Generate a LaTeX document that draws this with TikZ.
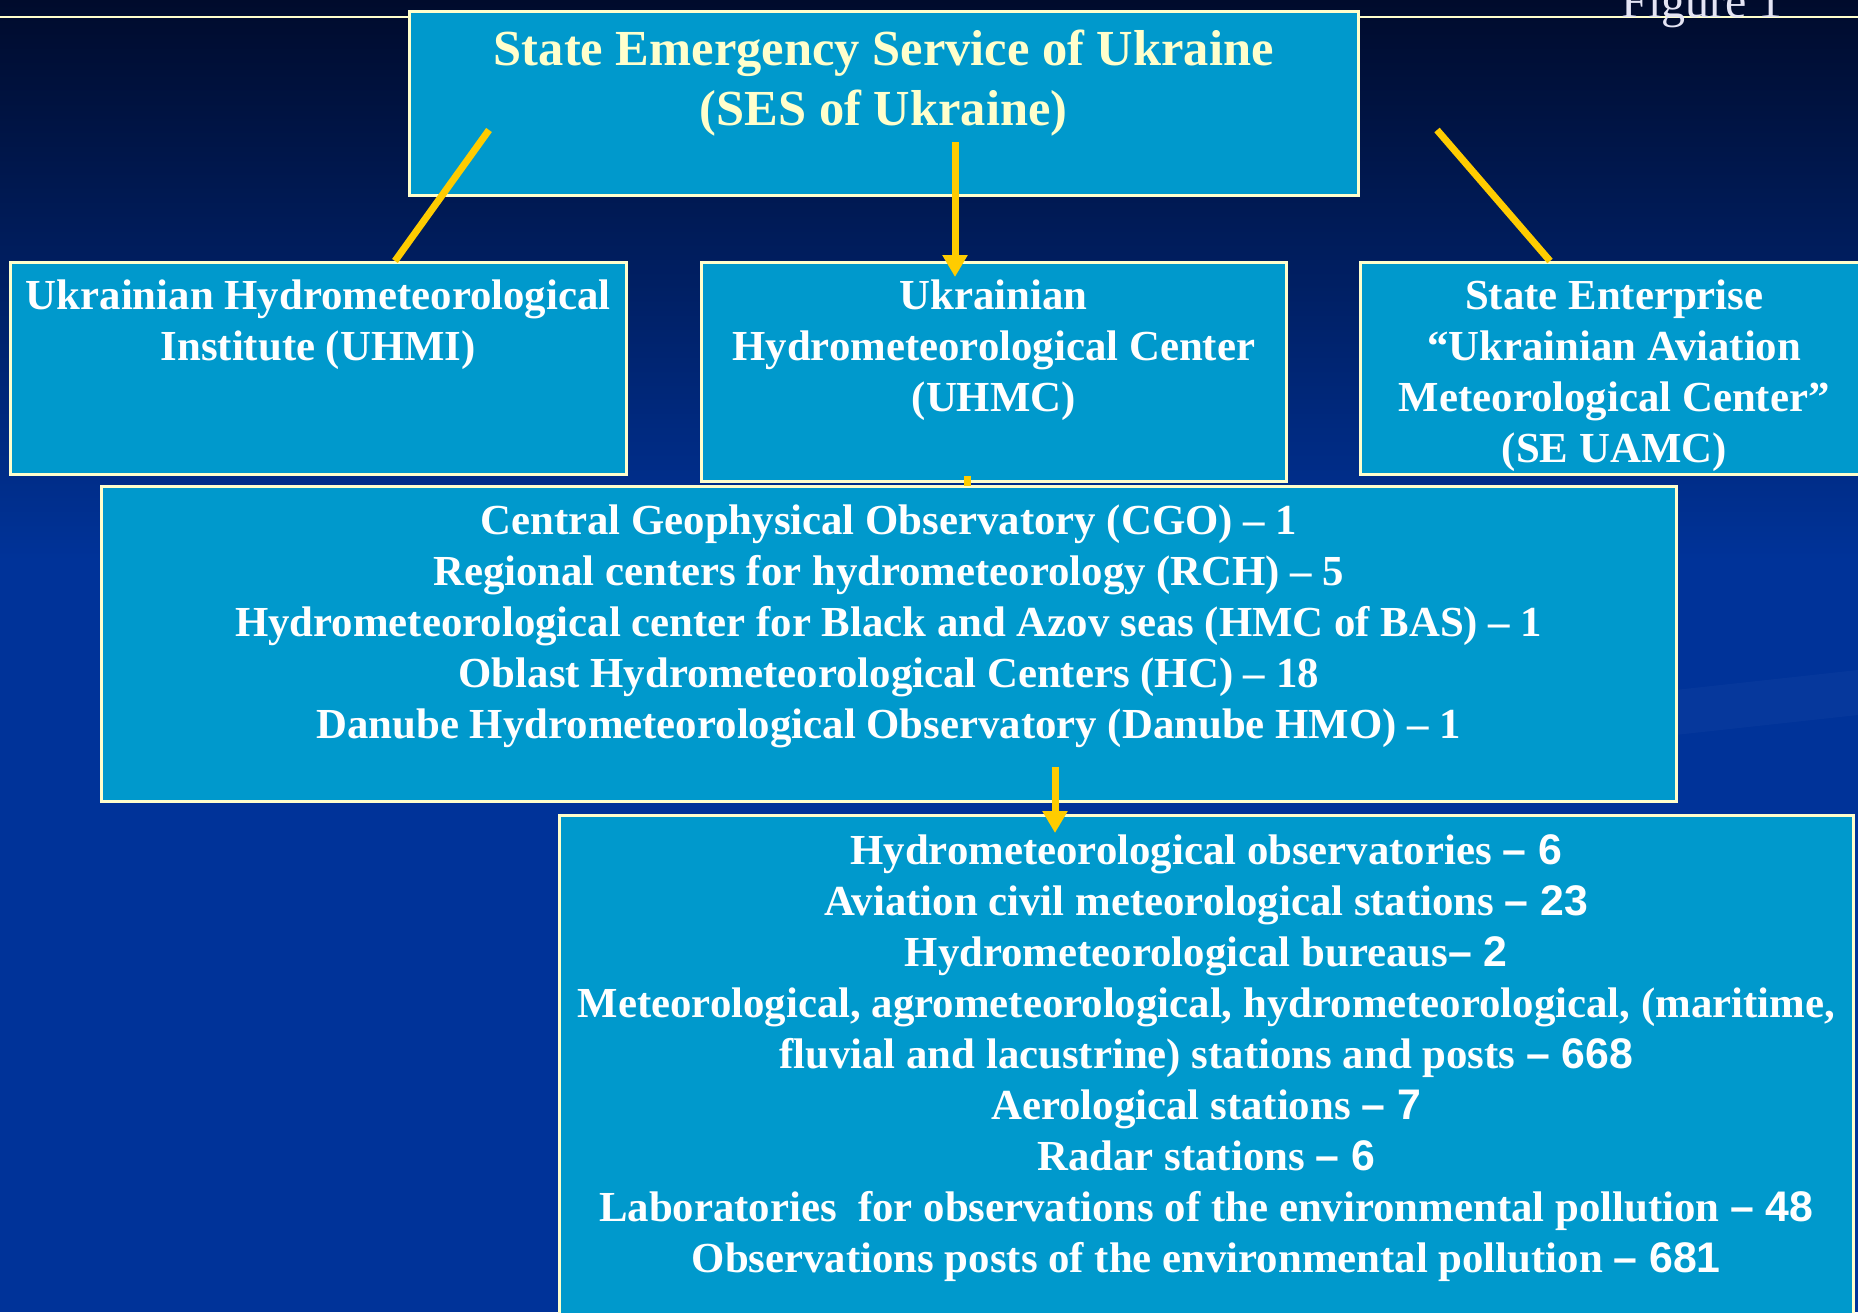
\documentclass[tikz,border=0pt]{standalone}
\usepackage{fontspec}
\setmainfont{Liberation Serif}
\newfontfamily\arialfont{Liberation Sans}
\usetikzlibrary{arrows.meta,calc}
\definecolor{boxfill}{HTML}{0099CC}
\definecolor{edgecol}{HTML}{FFFFCC}
\definecolor{titlecol}{HTML}{FFFFCC}
\definecolor{linkcol}{HTML}{FFCC00}
\definecolor{bgtop}{HTML}{000B2C}
\definecolor{bgbot}{HTML}{003399}
\definecolor{bgband}{HTML}{0B3C9E}
\definecolor{figcol}{HTML}{E4E4F4}
\newcommand{\cl}[1]{\makebox[\linewidth]{#1}}
\newcommand{\boxbody}[4]{\parbox[t][#2][t]{#1}{\vspace*{#3}#4\par\vfill}}
\newcommand{\num}[1]{{\arialfont\bfseries #1}}
\tikzset{
  orgbox/.style={draw=edgecol, line width=2.5pt, fill=boxfill, inner sep=0pt,
    anchor=north west, text=white, font=\bfseries\fontsize{42.8}{51}\selectfont},
  titlebox/.style={orgbox, text=titlecol, font=\bfseries\fontsize{50.5}{60}\selectfont},
  linkline/.style={draw=linkcol, line width=7pt},
  linkarrow/.style={linkline, -{Triangle[width=24pt,length=22pt]}},
  figlabel/.style={text=figcol, font=\fontsize{48}{58}\selectfont, inner sep=0pt, anchor=base}
}
\begin{document}
\begin{tikzpicture}[x=1pt,y=-1pt]
\useasboundingbox (0,0) rectangle (1858,1312);
\clip (0,0) rectangle (1858,1312);
% background
\fill[bgbot] (0,0) rectangle (1858,1312);
\shade[top color=bgtop, bottom color=bgbot] (0,0) rectangle (1858,560);
\fill[bgband, opacity=0.6] (1675,690) -- (1858,670) -- (1858,715) -- (1675,735) -- cycle;
% top rule and figure label
\draw[edgecol, line width=2.5pt] (0,17) -- (1858,17);
\node[figlabel] (figlabel) at (1702,17) {Figure 1};
% boxes
\node[titlebox] (ses) at (408,10) {\boxbody{949pt}{184pt}{12pt}{%
  \cl{\strut State Emergency Service of Ukraine}\par
  \cl{(SES of Ukraine)}}};
\node[orgbox] (uhmi) at (9,261) {\boxbody{616pt}{212pt}{12pt}{%
  \cl{\strut Ukrainian Hydrometeorological}\par
  \cl{Institute (UHMI)}}};
\node[orgbox] (uhmc) at (700,261) {\boxbody{585pt}{219pt}{12pt}{%
  \cl{\strut Ukrainian}\par
  \cl{Hydrometeorological Center}\par
  \cl{(UHMC)}}};
\node[orgbox] (uamc) at (1359,261) {\boxbody{508pt}{212pt}{12pt}{%
  \cl{\strut State Enterprise}\par
  \cl{“Ukrainian Aviation}\par
  \cl{Meteorological Center”}\par
  \cl{(SE UAMC)}}};
\node[orgbox] (cgo) at (100,485) {\boxbody{1575pt}{315pt}{13pt}{%
  \cl{\strut Central Geophysical Observatory (CGO) – 1}\par
  \cl{Regional centers for hydrometeorology (RCH) – 5}\par
  \cl{Hydrometeorological center for Black and Azov seas (HMC of BAS) – 1}\par
  \cl{Oblast Hydrometeorological Centers (HC) – 18}\par
  \cl{Danube Hydrometeorological Observatory (Danube HMO) – 1}}};
\node[orgbox] (obs) at (558,814) {\boxbody{1294pt}{520pt}{14pt}{%
  \cl{\strut Hydrometeorological observatories \num{– 6}}\par
  \cl{Aviation civil meteorological stations \num{– 23}}\par
  \cl{Hydrometeorological bureaus\num{– 2}}\par
  \cl{Meteorological, agrometeorological, hydrometeorological, (maritime,}\par
  \cl{fluvial and lacustrine) stations and posts \num{– 668}}\par
  \cl{Aerological stations \num{– 7}}\par
  \cl{Radar stations \num{– 6}}\par
  \cl{Laboratories\ \ for observations of the environmental pollution \num{– 48}}\par
  \cl{Observations posts of the environmental pollution \num{– 681}}}};
% connectors
\coordinate (sesL) at ($(ses.north west)+(81,120)$);
\coordinate (sesM) at ($(ses.north west)+(547,132)$);
\coordinate (sesR) at ($(ses.north west)+(1029,120)$);
\draw[linkline] (sesL) -- ($(uhmi.north west)+(386,0)$);
\draw[linkarrow] (sesM) -- ($(uhmc.north west)+(255,16)$);
\draw[linkline] (sesR) -- ($(uamc.north west)+(191,0)$);
\draw[linkline] ($(uhmc.south west)+(267,-7)$) -- ($(cgo.north west)+(867,1)$);
\coordinate (cgoM) at ($(cgo.north west)+(955,282)$);
\draw[linkarrow] (cgoM) -- ($(obs.north west)+(497,19)$);
\end{tikzpicture}
\end{document}
